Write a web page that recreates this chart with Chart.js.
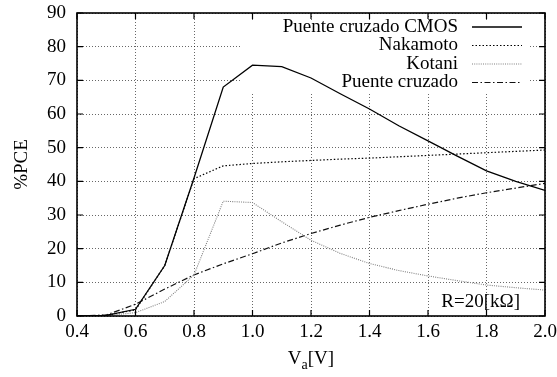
<!DOCTYPE html>
<html lang="es">
<head>
<meta charset="UTF-8">
<title>%PCE vs Va</title>
<script src="https://cdn.jsdelivr.net/npm/chart.js"></script>
<style>
    html, body { margin: 0; padding: 0; background: #fff; }
    #wrap { width: 557px; height: 377px; position: relative; }
</style>
</head>
<body>
<div id="wrap"><canvas id="pce"></canvas></div>
<script>
    // tension de entrada Va [V]
    const va = [0.4, 0.5, 0.6, 0.7, 0.8, 0.9, 1.0, 1.1, 1.2, 1.3, 1.4, 1.5, 1.6, 1.7, 1.8, 1.9, 2.0];

    // %PCE por circuito
    const puenteCmos = [0, 0.2, 2, 15, 41, 68, 74.5, 74.1, 70.7, 66, 61.5, 56.5, 52, 47.5, 43.1, 40, 37.3];
    const nakamoto   = [0, 0.2, 1.8, 15, 40.8, 44.6, 45.3, 45.8, 46.2, 46.6, 46.9, 47.3, 47.7, 48.1, 48.5, 48.9, 49.3];
    const kotani     = [0, 0.1, 1, 4.3, 12.2, 34.1, 33.7, 28, 22.5, 18.6, 15.6, 13.5, 11.9, 10.5, 9.2, 8.4, 7.7];
    const puente     = [0, 0.3, 3.5, 8, 12.2, 15.5, 18.5, 21.7, 24.5, 27, 29.3, 31.3, 33.2, 35, 36.6, 38, 39.4];

    const seriesNames = ['Puente cruzado CMOS', 'Nakamoto', 'Kotani', 'Puente cruzado'];
    const xTicks = [0.4, 2.0, 0.2];   // min, max, paso
    const yTicks = [0, 90, 10];
    const note = 'R=20[kΩ]';

    const serif = '"Liberation Serif", "Times New Roman", serif';
    const fs = 19;
    const pts = arr => arr.map((v, i) => ({ x: va[i], y: v }));

    // marco, marcas interiores, clave y rótulos al estilo gnuplot
    const gnuplotLook = {
        id: 'gnuplotLook',
        beforeDatasetsDraw(chart) {
            const { ctx, chartArea: a } = chart;
            // fondo opaco de la clave
            ctx.save();
            ctx.fillStyle = '#fff';
            ctx.fillRect(a.left + 163, a.top + 7, a.width - 178, 73);
            ctx.restore();
        },
        afterDraw(chart) {
            const { ctx, chartArea: a, scales } = chart;
            ctx.save();
            ctx.strokeStyle = '#000';
            ctx.lineWidth = 1.2;
            ctx.setLineDash([]);
            // marcas hacia adentro
            ctx.beginPath();
            scales.x.ticks.forEach(t => {
                const px = scales.x.getPixelForValue(t.value);
                ctx.moveTo(px, a.bottom); ctx.lineTo(px, a.bottom - 6);
                ctx.moveTo(px, a.top); ctx.lineTo(px, a.top + 6);
            });
            scales.y.ticks.forEach(t => {
                const py = scales.y.getPixelForValue(t.value);
                ctx.moveTo(a.left, py); ctx.lineTo(a.left + 6, py);
                ctx.moveTo(a.right, py); ctx.lineTo(a.right - 6, py);
            });
            ctx.stroke();
            ctx.lineWidth = 1.6;
            ctx.strokeRect(a.left, a.top, a.width, a.height);

            // clave
            ctx.font = fs + 'px ' + serif;
            ctx.fillStyle = '#000';
            ctx.textBaseline = 'middle';
            ctx.textAlign = 'right';
            chart.data.datasets.forEach((ds, i) => {
                const y = a.top + 14 + i * 18.5;
                ctx.fillText(ds.label, a.right - 87, y);
                ctx.beginPath();
                ctx.strokeStyle = ds.borderColor;
                ctx.lineWidth = ds.borderWidth;
                ctx.setLineDash(ds.borderDash || []);
                ctx.moveTo(a.right - 73, y);
                ctx.lineTo(a.right - 23, y);
                ctx.stroke();
            });
            ctx.setLineDash([]);

            // nota de resistencia
            ctx.fillText(note, a.right - 25, a.bottom - 14);

            // título eje x: V con subíndice a
            ctx.textAlign = 'left';
            ctx.textBaseline = 'alphabetic';
            const cx = (a.left + a.right) / 2;
            const base = a.bottom + 48;
            ctx.font = fs + 'px ' + serif;
            const wV = ctx.measureText('V').width;
            const wB = ctx.measureText('[V]').width;
            ctx.font = '14px ' + serif;
            const wA = ctx.measureText('a').width;
            const x0 = cx - (wV + wA + wB) / 2;
            ctx.font = fs + 'px ' + serif;
            ctx.fillText('V', x0, base);
            ctx.font = '14px ' + serif;
            ctx.fillText('a', x0 + wV, base + 5);
            ctx.font = fs + 'px ' + serif;
            ctx.fillText('[V]', x0 + wV + wA, base);

            // título eje y
            ctx.translate(22, (a.top + a.bottom) / 2);
            ctx.rotate(-Math.PI / 2);
            ctx.textAlign = 'center';
            ctx.textBaseline = 'middle';
            ctx.fillText('%PCE', 0, 0);
            ctx.restore();
        }
    };

    const gridStyle = { color: 'rgba(0,0,0,0.75)', lineWidth: 0.8, drawTicks: false };

    new Chart(document.getElementById('pce'), {
        type: 'line',
        data: {
            datasets: [
                { label: seriesNames[0], data: pts(puenteCmos), borderColor: '#000', borderWidth: 1.3 },
                { label: seriesNames[1], data: pts(nakamoto), borderColor: '#000', borderWidth: 1.2, borderDash: [1.5, 2] },
                { label: seriesNames[2], data: pts(kotani), borderColor: '#808080', borderWidth: 1.1, borderDash: [1, 1.2] },
                { label: seriesNames[3], data: pts(puente), borderColor: '#111', borderWidth: 1.2, borderDash: [6, 2.5, 1.5, 2.5] }
            ]
        },
        options: {
            responsive: true,
            maintainAspectRatio: false,
            animation: false,
            devicePixelRatio: 1,
            elements: { point: { radius: 0 }, line: { tension: 0 } },
            layout: { padding: { top: 13, right: 12, left: 0, bottom: 0 } },
            plugins: { legend: { display: false }, tooltip: { enabled: false } },
            scales: {
                x: {
                    type: 'linear',
                    min: xTicks[0], max: xTicks[1],
                    afterFit: s => { s.height = 61; s.paddingLeft = 0; s.paddingRight = 0; },
                    grid: gridStyle,
                    border: { display: false, dash: [1, 2] },
                    ticks: {
                        stepSize: xTicks[2], padding: 5, color: '#000',
                        font: { family: serif, size: fs },
                        callback: v => Number(v).toFixed(1)
                    }
                },
                y: {
                    min: yTicks[0], max: yTicks[1],
                    afterFit: s => { s.width = 77; s.paddingTop = 0; s.paddingBottom = 0; },
                    grid: gridStyle,
                    border: { display: false, dash: [1, 2] },
                    ticks: {
                        stepSize: yTicks[2], padding: 11, color: '#000',
                        font: { family: serif, size: fs }
                    }
                }
            }
        },
        plugins: [gnuplotLook]
    });
</script>
</body>
</html>
